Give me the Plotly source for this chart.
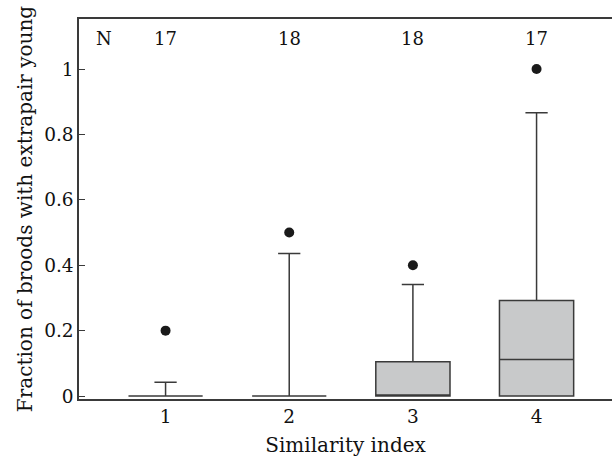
import plotly.graph_objects as go

categories = [1, 2, 3, 4]
q1 = [0.0, 0.0, 0.0, 0.0]
median = [0.0, 0.0, 0.0, 0.112]
q3 = [0.0, 0.0, 0.105, 0.292]
lower_fence = [0.0, 0.0, 0.0, 0.0]
upper_fence = [0.042, 0.436, 0.341, 0.866]
outliers = [0.2, 0.5, 0.4, 1.0]
n_labels = ["17", "18", "18", "17"]
ytick_vals = [0, 0.2, 0.4, 0.6, 0.8, 1]
ytick_text = ["0", "0.2", "0.4", "0.6", "0.8", "1"]

FONT = "DejaVu Serif"
LINE = "#3a3a3a"

fig = go.Figure()
fig.add_trace(go.Box(
    x=categories, q1=q1, median=median, q3=q3,
    lowerfence=lower_fence, upperfence=upper_fence,
    width=0.6, whiskerwidth=0.3,
    fillcolor="#c8c9ca", line=dict(color=LINE, width=1.5),
    boxpoints=False, showlegend=False, hoverinfo="skip",
))
fig.add_trace(go.Scatter(
    x=categories, y=outliers, mode="markers",
    marker=dict(color="#1a1a1a", size=10), showlegend=False, hoverinfo="skip",
))

fig.add_annotation(x=0.5, y=1.093, text="N", showarrow=False,
                   font=dict(family=FONT, size=18, color="#111"))
for c, t in zip(categories, n_labels):
    fig.add_annotation(x=c, y=1.093, text=t, showarrow=False,
                       font=dict(family=FONT, size=18, color="#111"))

fig.update_layout(
    width=612, height=458,
    margin=dict(l=79, r=0, t=19, b=58.5),
    paper_bgcolor="white", plot_bgcolor="white",
    font=dict(family=FONT, size=17, color="#111"),
    xaxis=dict(range=[0.30, 4.61], tickvals=categories,
               ticktext=[str(c) for c in categories],
               tickfont=dict(size=18.5),
               showline=True, mirror=True, linecolor=LINE, linewidth=1.5,
               ticks="", showgrid=False, zeroline=False,
               title=dict(text="Similarity index", standoff=12)),
    yaxis=dict(range=[-0.009, 1.153], tickvals=ytick_vals, ticktext=ytick_text,
               tickfont=dict(size=18.5),
               showline=True, linecolor=LINE, linewidth=1.5,
               ticks="inside", ticklen=6, tickcolor=LINE,
               showgrid=False, zeroline=False,
               title=dict(text="Fraction of broods with extrapair young", standoff=6)),
)

fig.write_html("out.html", config={"displayModeBar": False},
               post_script="document.body.style.margin='0';document.body.style.overflow='hidden';")
